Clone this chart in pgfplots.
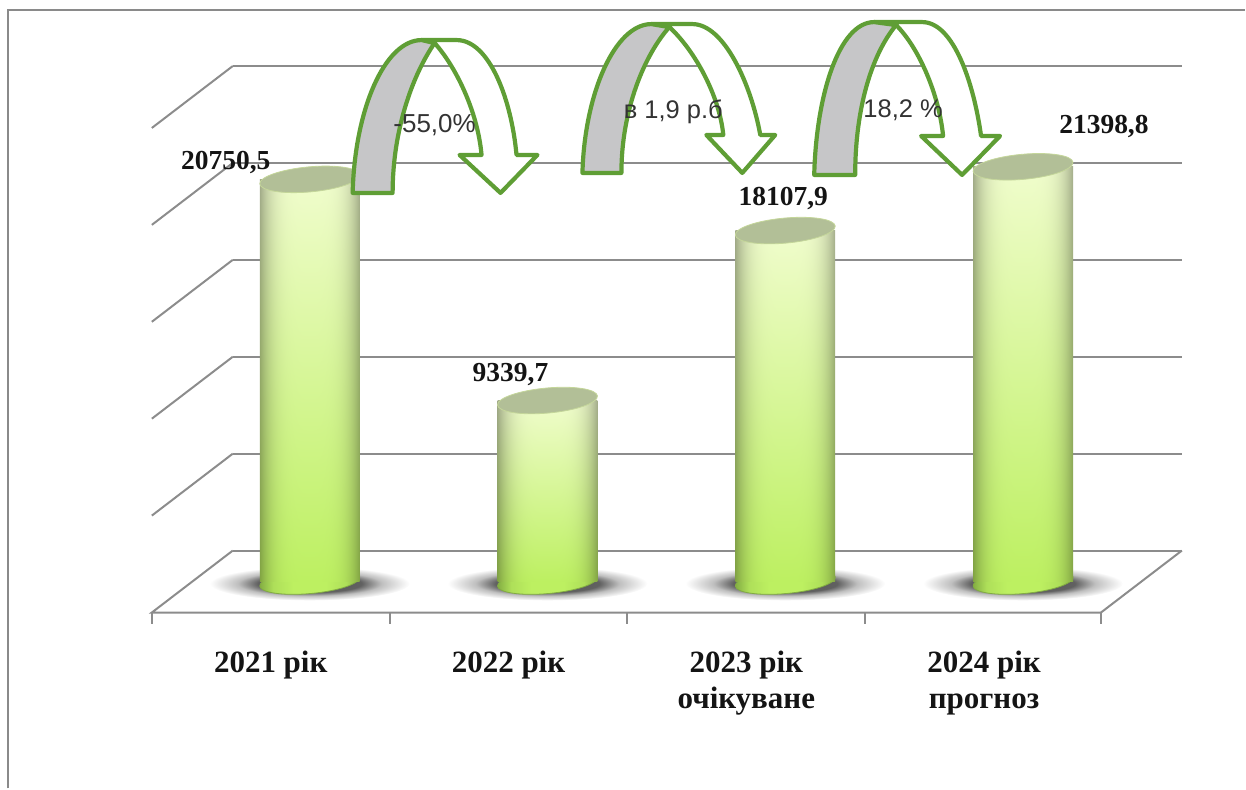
\documentclass[border=0pt]{standalone}
\usepackage{fontspec}
\setmainfont{Liberation Serif}
\newfontfamily\arrowfont{Liberation Sans}
\usepackage{pgfplots}
\pgfplotsset{compat=1.18}
\definecolor{gridgray}{HTML}{8C8C8C}
\definecolor{framegray}{HTML}{8A8A8A}
\definecolor{arrowgreen}{HTML}{5F9E35}
\definecolor{tailgray}{HTML}{C6C6C8}
\definecolor{captop}{HTML}{B2BF97}
\definecolor{caprim}{HTML}{C4D69A}
\definecolor{baserim}{HTML}{82AC42}
\definecolor{basemid}{HTML}{BDF061}

% cylinder side: pale at the top, vivid green at the bottom, darker at both edges
% (the path fills the middle 50bp of a shading, so x and y run from -25 to 25)
\pgfdeclarefunctionalshading{cylside}{\pgfpoint{-50bp}{-50bp}}{\pgfpoint{50bp}{50bp}}{}{
  25 add 50 div exch 25 div abs
  dup mul dup mul 0.32 mul 1 exch sub
  1 index 0.20 mul 0.74 add 1 index mul
  2 index 0.05 mul 0.94 add 2 index mul
  3 index 0.42 mul 0.38 add 3 index mul
  5 -2 roll pop pop
}
\pgfdeclarehorizontalshading{cylbase}{100bp}{
  color(0bp)=(baserim); color(25bp)=(baserim); color(32bp)=(basemid!75!baserim); color(42bp)=(basemid); color(58bp)=(basemid);
  color(68bp)=(basemid!75!baserim); color(75bp)=(baserim); color(100bp)=(baserim)}
\pgfdeclareradialshading{floorshadow}{\pgfpointorigin}{
  color(0bp)=(black!68); color(13bp)=(black!62); color(18bp)=(black!25); color(25bp)=(white); color(50bp)=(white)}

\pgfdeclareplotmark{captop}{
  \pgfpathellipse{\pgfpointorigin}{\pgfqpoint{50pt}{4.5pt}}{\pgfqpoint{-1pt}{12.5pt}}
  \pgfusepathqfillstroke}
\pgfdeclareplotmark{capbase}{
  \pgfpathellipse{\pgfpointorigin}{\pgfqpoint{50pt}{4.5pt}}{\pgfqpoint{-1pt}{12pt}}
  \pgfshadepath{cylbase}{0}\pgfusepathqstroke}
\pgfdeclareplotmark{shadow}{
  \pgfpathellipse{\pgfqpoint{0pt}{-2pt}}{\pgfqpoint{100pt}{0pt}}{\pgfqpoint{0pt}{17pt}}
  \pgfshadepath{floorshadow}{0}\pgfusepath{discard}}

\pgfplotsset{chartaxis/.style={
    at={(0,0)}, anchor=south west,
    scale only axis, width=1246pt, height=789pt,
    xmin=-1.30252, xmax=3.93277,
    ymin=-10670, ymax=30000,
    clip=false,
    axis line style={draw=none},
    major tick length=0pt,
    ytick=\empty,
    grid=none},
  wall/.style={gridgray, line width=2pt}}

\begin{document}
\begin{tikzpicture}
% walls, floor, shadows: a first axis, since marks go on top of the bars in the same axis
\begin{axis}[chartaxis, xtick=\empty]
  % back wall
  \addplot[wall] coordinates {(-0.3235,1598) (3.668,1598)};
  \addplot[wall] coordinates {(-0.3235,6598) (3.668,6598)};
  \addplot[wall] coordinates {(-0.3235,11598) (3.668,11598)};
  \addplot[wall] coordinates {(-0.3235,16598) (3.668,16598)};
  \addplot[wall] coordinates {(-0.3235,21598) (3.668,21598)};
  \addplot[wall] coordinates {(-0.3235,26598) (3.668,26598)};
  % side wall
  \addplot[wall] coordinates {(-0.6639,3402) (-0.3235,6598)};
  \addplot[wall] coordinates {(-0.6639,8402) (-0.3235,11598)};
  \addplot[wall] coordinates {(-0.6639,13402) (-0.3235,16598)};
  \addplot[wall] coordinates {(-0.6639,18402) (-0.3235,21598)};
  \addplot[wall] coordinates {(-0.6639,23402) (-0.3235,26598)};
  % floor
  \addplot[wall] coordinates {(-0.3235,1598) (-0.6639,-1598) (3.3277,-1598) (3.668,1598)};
  % ticks
  \addplot[wall] coordinates {(-0.6639,-1598) (-0.6639,-2216)};
  \addplot[wall] coordinates {(0.3361,-1598) (0.3361,-2216)};
  \addplot[wall] coordinates {(1.3361,-1598) (1.3361,-2216)};
  \addplot[wall] coordinates {(2.3361,-1598) (2.3361,-2216)};
  \addplot[wall] coordinates {(3.3277,-1598) (3.3277,-2216)};

  \addplot[only marks, mark=shadow] coordinates {(0,0) (1,0) (2,0) (3,0)};
  \addplot[only marks, mark=capbase, mark options={draw=baserim, line width=0.8pt}]
    coordinates {(0,0) (1,0) (2,0) (3,0)};
\end{axis}

\begin{axis}[chartaxis,
    xtick={-0.1639,0.8361,1.8361,2.8361},
    xticklabels={2021 рік,2022 рік,2023 рік\\очікуване,2024 рік\\прогноз},
    xticklabel style={anchor=north, align=center, yshift=141pt,
        font=\fontsize{31}{36}\selectfont\bfseries, text=black!92}]
  % one plot per bar, the shading fits one path
  \addplot[ybar, bar width=100pt, bar shift=0pt, draw=none, shade, shading=cylside] coordinates {(0,20750.5)};
  \addplot[ybar, bar width=100pt, bar shift=0pt, draw=none, shade, shading=cylside] coordinates {(1,9339.7)};
  \addplot[ybar, bar width=100pt, bar shift=0pt, draw=none, shade, shading=cylside] coordinates {(2,18107.9)};
  \addplot[ybar, bar width=100pt, bar shift=0pt, draw=none, shade, shading=cylside] coordinates {(3,21398.8)};
  \addplot[only marks, mark=captop, mark options={fill=captop, draw=caprim, line width=0.8pt}]
    coordinates {(0,20750.5) (1,9339.7) (2,18107.9) (3,21398.8)};
\end{axis}

% annotations, in pixels of the reference
\begin{scope}[x=1pt, y=-1pt, yshift=789pt]
  \draw[framegray, line width=2.4pt] (8,789) -- (8,10) -- (1246,10);

  \draw[arrowgreen, line width=4.2pt, line join=round, fill=white]
    (435,43) .. controls (455,65) and (478,110) .. (482,155) -- (460,155) -- (501,193) -- (538,155) -- (517,155)
    .. controls (512,100) and (490,40) .. (457,40) -- (422,40) -- cycle;
  \draw[arrowgreen, line width=4.2pt, line join=round, fill=tailgray]
    (353,193) .. controls (355,110) and (385,40) .. (422,40) -- (435,43)
    .. controls (413,75) and (393,130) .. (393,193) -- cycle;

  \draw[arrowgreen, line width=4.2pt, line join=round, fill=white]
    (670,27) .. controls (695,50) and (720,95) .. (724,135) -- (707,135) -- (743,173) -- (776,135) -- (761,135)
    .. controls (752,85) and (725,24) .. (693,24) -- (652,24) -- cycle;
  \draw[arrowgreen, line width=4.2pt, line join=round, fill=tailgray]
    (583,173) .. controls (585,95) and (615,24) .. (652,24) -- (670,27)
    .. controls (645,55) and (622,110) .. (622,173) -- cycle;

  \draw[arrowgreen, line width=4.2pt, line join=round, fill=white]
    (897,25) .. controls (920,48) and (940,95) .. (944,136) -- (922,136) -- (963,175) -- (1001,136) -- (982,136)
    .. controls (975,85) and (955,22) .. (923,22) -- (875,22) -- cycle;
  \draw[arrowgreen, line width=4.2pt, line join=round, fill=tailgray]
    (815,175) .. controls (817,95) and (840,22) .. (875,22) -- (897,25)
    .. controls (872,55) and (856,110) .. (856,175) -- cycle;

  \node[text=black!80, font=\arrowfont\fontsize{26}{28}\selectfont] at (435,125) {-55,0\%};
  \node[text=black!80, font=\arrowfont\fontsize{25.5}{27}\selectfont] at (674,112) {в 1,9 р.б};
  \node[text=black!80, font=\arrowfont\fontsize{25.5}{27}\selectfont] at (904,110) {18,2 \%};

  \begin{scope}[every node/.style={font=\fontsize{27.5}{29}\selectfont\bfseries, text=black!92, inner sep=0pt}]
    \node at (226,163) {20750,5};
    \node at (511,375) {9339,7};
    \node at (784,199) {18107,9};
    \node at (1105,127) {21398,8};
  \end{scope}
\end{scope}
\end{tikzpicture}
\end{document}
